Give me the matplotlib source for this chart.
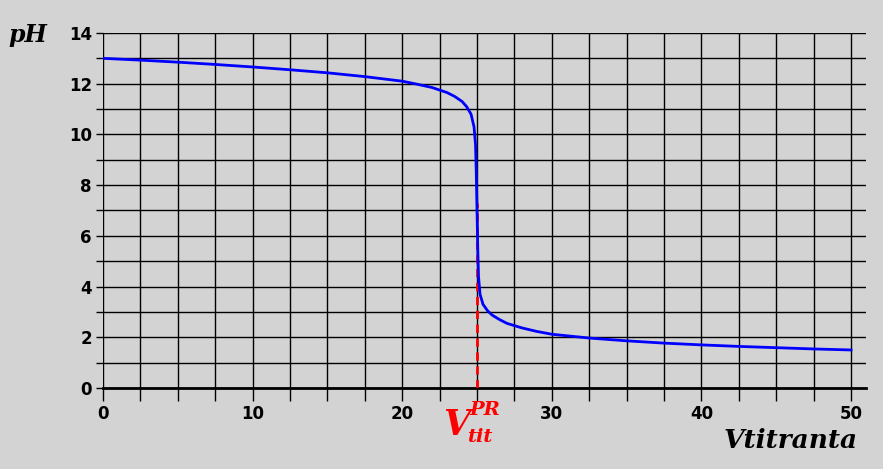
import matplotlib
matplotlib.use("Agg")
import matplotlib.pyplot as plt
import numpy as np

vol = [0, 2.5, 5, 7.5, 10, 12.5, 15, 17.5, 20, 21, 22, 23, 23.5, 24, 24.3, 24.6, 24.8, 24.9, 24.95, 25.0, 25.05, 25.1, 25.2, 25.4, 25.7, 26, 26.5, 27, 28, 29, 30, 32.5, 35, 37.5, 40, 42.5, 45, 47.5, 50]
ph = [13.0, 12.93, 12.85, 12.76, 12.66, 12.55, 12.43, 12.28, 12.1, 11.98, 11.85, 11.65, 11.5, 11.3, 11.1, 10.8, 10.3, 9.6, 8.5, 7.0, 5.5, 4.4, 3.7, 3.3, 3.05, 2.88, 2.7, 2.55, 2.37, 2.23, 2.12, 1.97, 1.86, 1.77, 1.7, 1.64, 1.59, 1.54, 1.5]
x_labels = [0, 10, 20, 30, 40, 50]
y_labels = [0, 2, 4, 6, 8, 10, 12, 14]
v_eq = 25
bg = "#d3d3d3"

fig = plt.figure(figsize=(8.83, 4.69), dpi=100, facecolor=bg)
ax = fig.add_axes([103/883, 81/469, 763/883, 355/469], facecolor=bg)
ax.set_xlim(0, 51)
ax.set_ylim(0, 14)
ax.set_xticks(x_labels)
ax.set_xticks(np.arange(0, 51, 2.5), minor=True)
ax.set_yticks(y_labels)
ax.set_yticks(np.arange(0, 15, 1), minor=True)
ax.grid(True, which="both", color="black", lw=1)
ax.tick_params(which="both", direction="out", length=9, width=1, color="black")
ax.tick_params(axis="y", which="both", length=5)
ax.tick_params(axis="x", labelsize=12, pad=3)
ax.tick_params(axis="y", labelsize=12, pad=3)
for lab in ax.get_xticklabels() + ax.get_yticklabels():
    lab.set_fontweight("bold")
for s in ["top", "right", "left"]:
    ax.spines[s].set_visible(False)
ax.spines["bottom"].set_linewidth(2)
ax.set_axisbelow(True)

ax.plot([v_eq, v_eq], [0, 7.3], color="red", lw=2, ls=(0, (3, 2)), zorder=3)
ax.plot(vol, ph, color="blue", lw=2, zorder=4)

serif = dict(fontweight="bold", style="italic", family="DejaVu Serif")
fig.text(8/883, 1-35/469, "pH", fontsize=17, va="center", **serif)
fig.text(858/883, 1-440/469, "Vtitranta", fontsize=19, ha="right", va="center", **serif)
fig.text(443/883, 1-425/469, "V", fontsize=25, color="red", va="center", **serif)
fig.text(469/883, 1-410/469, "PR", fontsize=14, color="red", va="center", **serif)
fig.text(467/883, 1-437/469, "tit", fontsize=14, color="red", va="center", **serif)
fig.savefig("out.png", dpi=100, facecolor=bg)
